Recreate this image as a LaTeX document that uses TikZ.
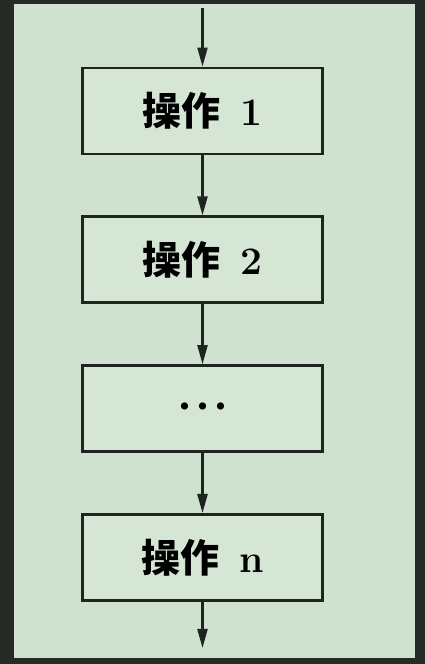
\documentclass[tikz,border=0pt]{standalone}
\usepackage{fontspec}
\usepackage{tikz}
\usetikzlibrary{arrows.meta, calc, positioning}
\newfontfamily\cjk{Noto Sans CJK SC}
\definecolor{boardgreen}{rgb}{0.812, 0.886, 0.812}
\definecolor{boxgreen}{rgb}{0.835, 0.902, 0.831}
\definecolor{frameslate}{rgb}{0.149, 0.165, 0.153}
\definecolor{inkdark}{rgb}{0.118, 0.141, 0.122}
\newcommand{\oplabel}[1]{{\cjk\bfseries 操作}\hspace{0.5em}{\rmfamily\bfseries #1}}
\newcommand{\opdotlabel}{\raisebox{4pt}{\fontsize{8}{10}\selectfont\cjk ●\hspace{10pt}●\hspace{10pt}●}}

\begin{document}
\begin{tikzpicture}
			[x=1pt, y=1pt,
			opbox/.style={draw=inkdark, line width=2.8pt, fill=boxgreen,
				minimum width=240pt, minimum height=86pt, inner sep=0pt,
				font=\fontsize{39}{44}\selectfont},
			flow/.style={draw=inkdark, line width=2.2pt,
				-{Triangle[length=19pt, width=10pt]}},
			node distance=60pt]
			\useasboundingbox (0,0) rectangle (425,664);
			\fill[frameslate] (0,0) rectangle (425,664);
			\fill[boardgreen] (14,6) rectangle (415,660);

			\node[opbox] (op1) at (202.5,553) {\oplabel{1}};
			\node[opbox, below = of op1] (op2) {\oplabel{2}};
			\node[opbox, below = of op2] (opmid) {\opdotlabel};
			\node[opbox, below = of opmid] (opn) {\oplabel{n}};

			\coordinate (start) at (202.5,656);
			\coordinate (finish) at (202.5,16);

			\draw[flow] (start)--(op1);
			\draw[flow] (op1)--(op2);
			\draw[flow] (op2)--(opmid);
			\draw[flow] (opmid)--(opn);
			\draw[flow] (opn)--(finish);
		\end{tikzpicture}
\end{document}
